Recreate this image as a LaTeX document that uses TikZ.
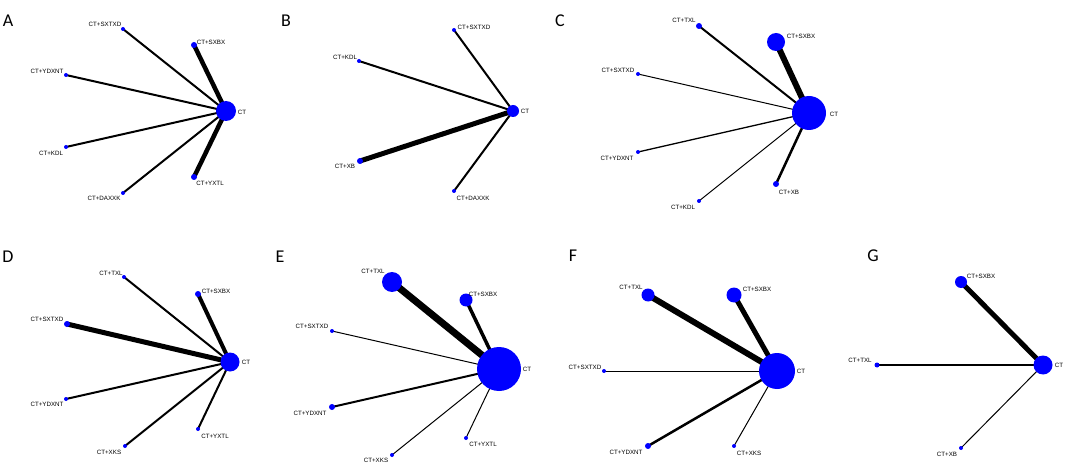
\documentclass[tikz,border=0pt]{standalone}
\usepackage{fontspec}
\setmainfont{Liberation Sans}
\newfontfamily\panelfont{Carlito}
\pgfdeclarelayer{bglayer}
\pgfdeclarelayer{edgelayer}
\pgfsetlayers{bglayer,edgelayer,main}
\definecolor{nodeblue}{RGB}{0,0,255}
\tikzset{
  tnode/.style={circle,fill=nodeblue,draw=none,inner sep=0pt,minimum size=#1},
  tnode/.default=4pt,
  lab/.style={font=\fontsize{6.2}{7}\selectfont,inner sep=0pt,anchor=center},
  plab/.style={font=\panelfont\fontsize{18}{20}\selectfont,inner sep=0pt,anchor=center},
  edge/.style={line width=#1,draw=black},
}
\begin{document}
\begin{tikzpicture}[x=1pt,y=-1pt]
\begin{pgfonlayer}{bglayer}
\fill[white] (0,0) rectangle (1065,465);
\end{pgfonlayer}
\useasboundingbox (0,0) rectangle (1065,465);
% ===== Panel A =====
\node[plab] (pA) at (8,21) {A};
\node[tnode=20pt] (a-ct) at (226,111) {};
\node[tnode] (a-sxtxd) at (123,29) {};
\node[tnode=6pt] (a-sxbx) at (194,45) {};
\node[tnode] (a-ydxnt) at (66,75) {};
\node[tnode] (a-kdl) at (66,147) {};
\node[tnode] (a-daxxk) at (123,193) {};
\node[tnode=6pt] (a-yxtl) at (194,177) {};
\node[lab] (a-ct-l) at (242,112) {CT};
\node[lab] (a-sxtxd-l) at (105,24) {CT+SXTXD};
\node[lab] (a-sxbx-l) at (211,42) {CT+SXBX};
\node[lab] (a-ydxnt-l) at (47,71) {CT+YDXNT};
\node[lab] (a-kdl-l) at (51,153) {CT+KDL};
\node[lab] (a-daxxk-l) at (104,198) {CT+DAXXK};
\node[lab] (a-yxtl-l) at (210,183) {CT+YXTL};
\begin{pgfonlayer}{edgelayer}
\draw[edge=2pt] (a-sxtxd.center) -- (a-ct.center);
\draw[edge=4.5pt] (a-sxbx.center) -- (a-ct.center);
\draw[edge=2pt] (a-ydxnt.center) -- (a-ct.center);
\draw[edge=2pt] (a-kdl.center) -- (a-ct.center);
\draw[edge=2pt] (a-daxxk.center) -- (a-ct.center);
\draw[edge=4.5pt] (a-yxtl.center) -- (a-ct.center);
\end{pgfonlayer}
% ===== Panel B =====
\node[plab] (pB) at (286,21) {B};
\node[tnode=12pt] (b-ct) at (513,111) {};
\node[tnode] (b-sxtxd) at (454,30) {};
\node[tnode] (b-kdl) at (359,61) {};
\node[tnode=6pt] (b-xb) at (360,161) {};
\node[tnode] (b-daxxk) at (454,191) {};
\node[lab] (b-ct-l) at (525,111) {CT};
\node[lab] (b-sxtxd-l) at (474,27) {CT+SXTXD};
\node[lab] (b-kdl-l) at (345,57) {CT+KDL};
\node[lab] (b-xb-l) at (345,166) {CT+XB};
\node[lab] (b-daxxk-l) at (473,198) {CT+DAXXK};
\begin{pgfonlayer}{edgelayer}
\draw[edge=2pt] (b-sxtxd.center) -- (b-ct.center);
\draw[edge=2pt] (b-kdl.center) -- (b-ct.center);
\draw[edge=5pt] (b-xb.center) -- (b-ct.center);
\draw[edge=2pt] (b-daxxk.center) -- (b-ct.center);
\end{pgfonlayer}
% ===== Panel C =====
\node[plab] (pC) at (560,21) {C};
\node[tnode=34pt] (c-ct) at (809,113) {};
\node[tnode=6pt] (c-txl) at (699,26) {};
\node[tnode=18pt] (c-sxbx) at (776,42) {};
\node[tnode] (c-sxtxd) at (638,74) {};
\node[tnode] (c-ydxnt) at (638,152) {};
\node[tnode] (c-kdl) at (699,201) {};
\node[tnode=6pt] (c-xb) at (776,184) {};
\node[lab] (c-ct-l) at (834,114) {CT};
\node[lab] (c-txl-l) at (684,20) {CT+TXL};
\node[lab] (c-sxbx-l) at (801,36) {CT+SXBX};
\node[lab] (c-sxtxd-l) at (618,70) {CT+SXTXD};
\node[lab] (c-ydxnt-l) at (617,158) {CT+YDXNT};
\node[lab] (c-kdl-l) at (683,207) {CT+KDL};
\node[lab] (c-xb-l) at (789,192) {CT+XB};
\begin{pgfonlayer}{edgelayer}
\draw[edge=2pt] (c-txl.center) -- (c-ct.center);
\draw[edge=6pt] (c-sxbx.center) -- (c-ct.center);
\draw[edge=1pt] (c-sxtxd.center) -- (c-ct.center);
\draw[edge=1.3pt] (c-ydxnt.center) -- (c-ct.center);
\draw[edge=1pt] (c-kdl.center) -- (c-ct.center);
\draw[edge=2.5pt] (c-xb.center) -- (c-ct.center);
\end{pgfonlayer}
% ===== Panel D =====
\node[plab] (pD) at (8,257) {D};
\node[tnode=19pt] (d-ct) at (230,362) {};
\node[tnode] (d-txl) at (124,277) {};
\node[tnode=6pt] (d-sxbx) at (198,294) {};
\node[tnode=6pt] (d-sxtxd) at (67,324) {};
\node[tnode] (d-ydxnt) at (66,399) {};
\node[tnode] (d-xks) at (125,446) {};
\node[tnode] (d-yxtl) at (198,429) {};
\node[lab] (d-ct-l) at (246,362) {CT};
\node[lab] (d-txl-l) at (111,273) {CT+TXL};
\node[lab] (d-sxbx-l) at (216,291) {CT+SXBX};
\node[lab] (d-sxtxd-l) at (47,319) {CT+SXTXD};
\node[lab] (d-ydxnt-l) at (47,404) {CT+YDXNT};
\node[lab] (d-xks-l) at (109,452) {CT+XKS};
\node[lab] (d-yxtl-l) at (215,436) {CT+YXTL};
\begin{pgfonlayer}{edgelayer}
\draw[edge=2pt] (d-txl.center) -- (d-ct.center);
\draw[edge=4pt] (d-sxbx.center) -- (d-ct.center);
\draw[edge=5pt] (d-sxtxd.center) -- (d-ct.center);
\draw[edge=2pt] (d-ydxnt.center) -- (d-ct.center);
\draw[edge=2pt] (d-xks.center) -- (d-ct.center);
\draw[edge=2pt] (d-yxtl.center) -- (d-ct.center);
\end{pgfonlayer}
% ===== Panel E =====
\node[plab] (pE) at (280,257) {E};
\node[tnode=44pt] (e-ct) at (499,369) {};
\node[tnode=20pt] (e-txl) at (392,282) {};
\node[tnode=13pt] (e-sxbx) at (466,300) {};
\node[tnode] (e-sxtxd) at (332,331) {};
\node[tnode=6pt] (e-ydxnt) at (332,407) {};
\node[tnode] (e-xks) at (392,455) {};
\node[tnode] (e-yxtl) at (466,438) {};
\node[lab] (e-ct-l) at (527,369) {CT};
\node[lab] (e-txl-l) at (373,271) {CT+TXL};
\node[lab] (e-sxbx-l) at (483,294) {CT+SXBX};
\node[lab] (e-sxtxd-l) at (312,326) {CT+SXTXD};
\node[lab] (e-ydxnt-l) at (310,413) {CT+YDXNT};
\node[lab] (e-xks-l) at (376,460) {CT+XKS};
\node[lab] (e-yxtl-l) at (483,444) {CT+YXTL};
\begin{pgfonlayer}{edgelayer}
\draw[edge=7pt] (e-txl.center) -- (e-ct.center);
\draw[edge=3.5pt] (e-sxbx.center) -- (e-ct.center);
\draw[edge=1pt] (e-sxtxd.center) -- (e-ct.center);
\draw[edge=2pt] (e-ydxnt.center) -- (e-ct.center);
\draw[edge=1pt] (e-xks.center) -- (e-ct.center);
\draw[edge=1pt] (e-yxtl.center) -- (e-ct.center);
\end{pgfonlayer}
% ===== Panel F =====
\node[plab] (pF) at (573,256) {F};
\node[tnode=36pt] (f-ct) at (777,371) {};
\node[tnode=13pt] (f-txl) at (648,295) {};
\node[tnode=15pt] (f-sxbx) at (734,295) {};
\node[tnode] (f-sxtxd) at (604,371) {};
\node[tnode=6pt] (f-ydxnt) at (648,446) {};
\node[tnode] (f-xks) at (734,446) {};
\node[lab] (f-ct-l) at (801,371) {CT};
\node[lab] (f-txl-l) at (631,287) {CT+TXL};
\node[lab] (f-sxbx-l) at (757,289) {CT+SXBX};
\node[lab] (f-sxtxd-l) at (585,367) {CT+SXTXD};
\node[lab] (f-ydxnt-l) at (626,452) {CT+YDXNT};
\node[lab] (f-xks-l) at (749,453) {CT+XKS};
\begin{pgfonlayer}{edgelayer}
\draw[edge=6pt] (f-txl.center) -- (f-ct.center);
\draw[edge=5pt] (f-sxbx.center) -- (f-ct.center);
\draw[edge=1pt] (f-sxtxd.center) -- (f-ct.center);
\draw[edge=2.5pt] (f-ydxnt.center) -- (f-ct.center);
\draw[edge=1pt] (f-xks.center) -- (f-ct.center);
\end{pgfonlayer}
% ===== Panel G =====
\node[plab] (pG) at (873,256) {G};
\node[tnode=19pt] (g-ct) at (1043,365) {};
\node[tnode=12pt] (g-sxbx) at (961,282) {};
\node[tnode=5pt] (g-txl) at (877,365) {};
\node[tnode] (g-xb) at (961,448) {};
\node[lab] (g-ct-l) at (1059,365) {CT};
\node[lab] (g-sxbx-l) at (981,276) {CT+SXBX};
\node[lab] (g-txl-l) at (860,360) {CT+TXL};
\node[lab] (g-xb-l) at (947,454) {CT+XB};
\begin{pgfonlayer}{edgelayer}
\draw[edge=5pt] (g-sxbx.center) -- (g-ct.center);
\draw[edge=2.5pt] (g-txl.center) -- (g-ct.center);
\draw[edge=1pt] (g-xb.center) -- (g-ct.center);
\end{pgfonlayer}
\end{tikzpicture}
\end{document}
